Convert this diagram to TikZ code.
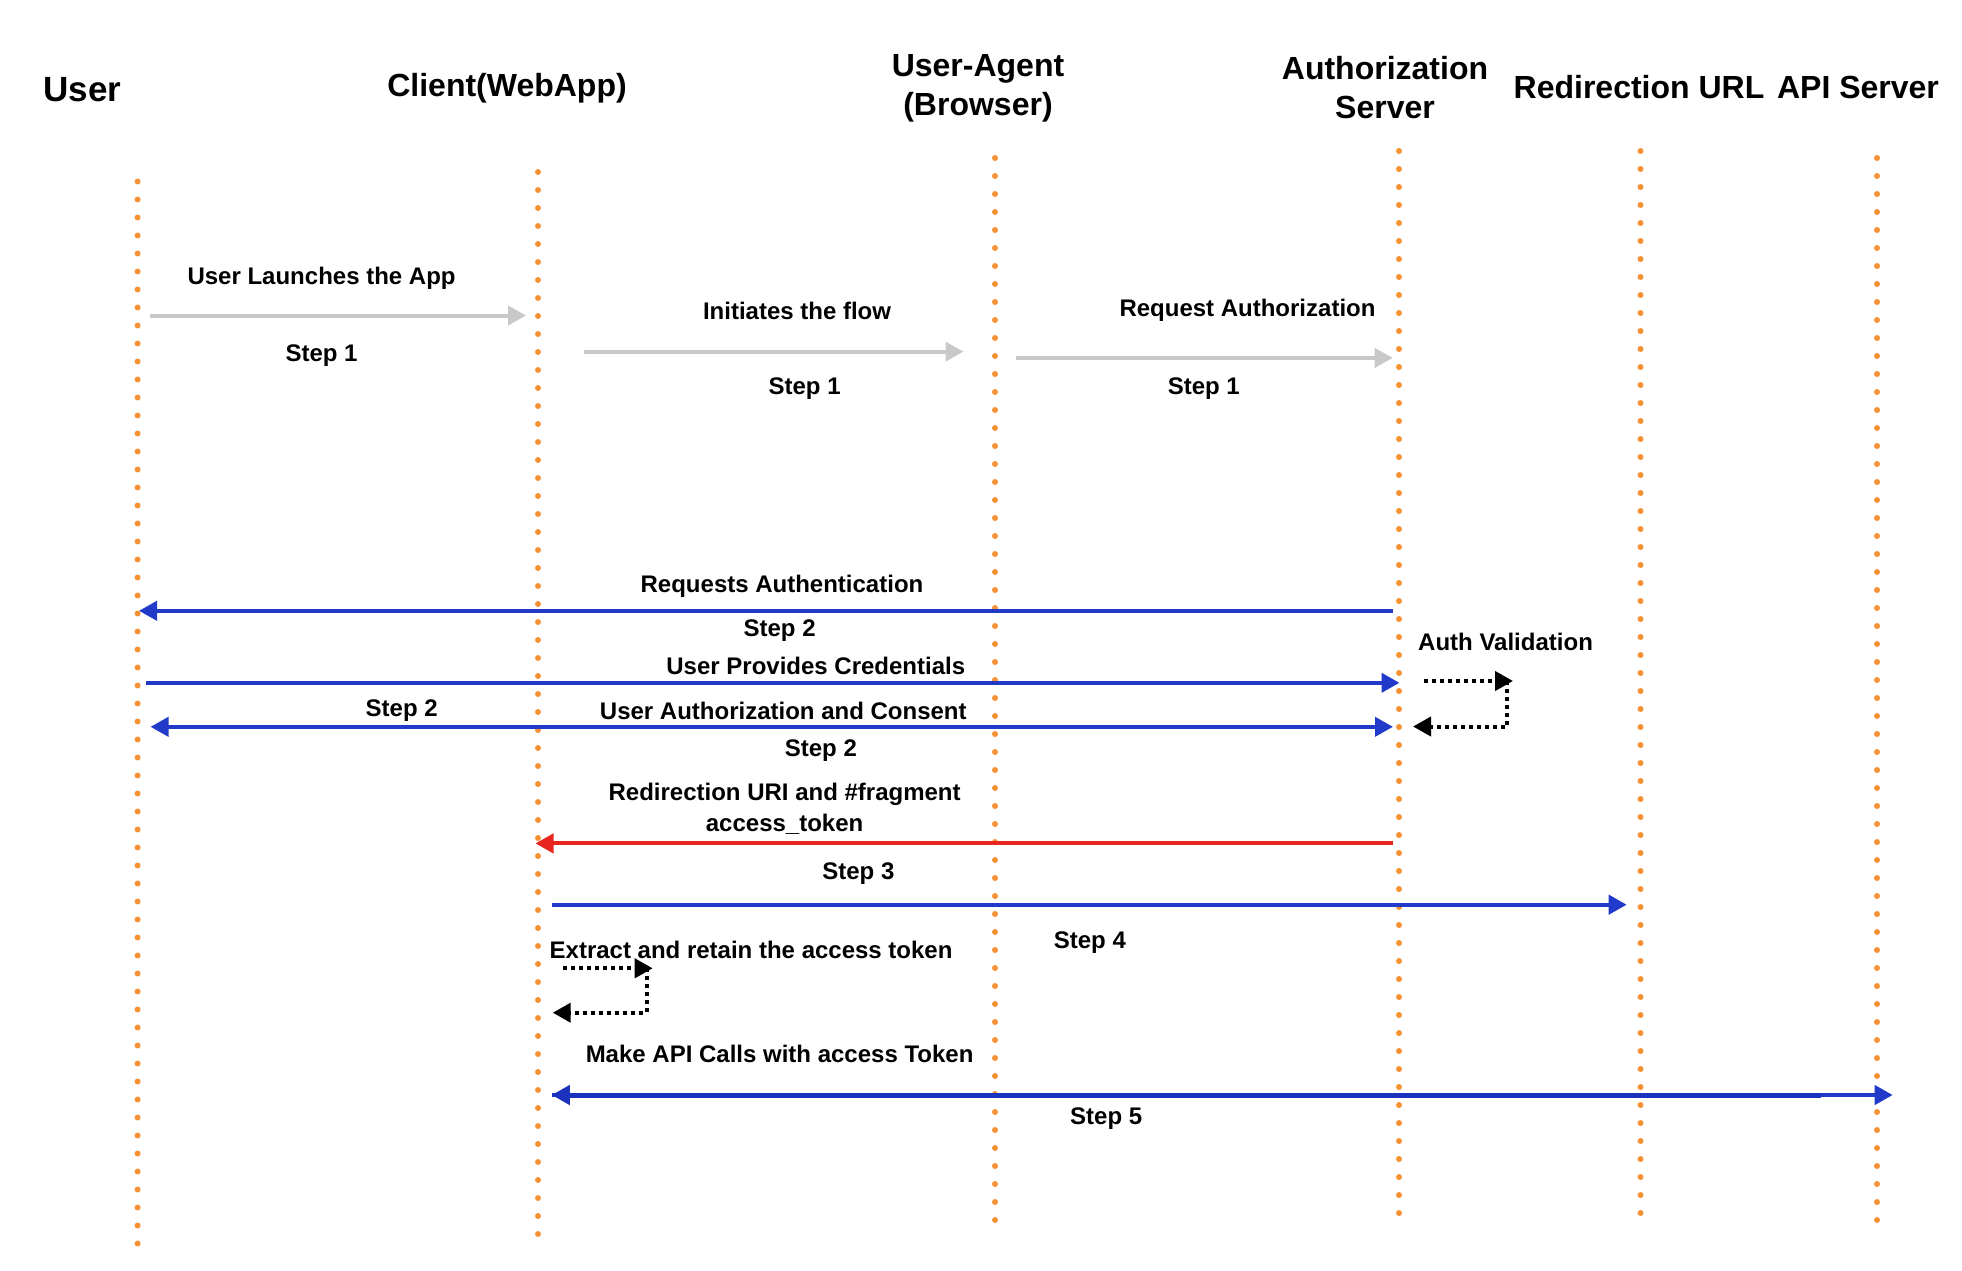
\documentclass[tikz,border=0pt]{standalone}
\usepackage{fontspec}
\setmainfont{Liberation Sans}
\usetikzlibrary{arrows.meta}
\definecolor{lifeorange}{RGB}{246,146,52}
\definecolor{agray}{RGB}{200,200,200}
\definecolor{ablue}{RGB}{33,58,201}
\definecolor{ablueDark}{RGB}{26,50,190}
\definecolor{ared}{RGB}{232,37,30}
\tikzset{
  lifeline/.style={draw=lifeorange, line width=6pt, line cap=round, dash pattern=on 0pt off 18pt},
  head/.style={font=\fontsize{32}{39}\selectfont\bfseries, align=center, inner sep=0pt},
  lbl/.style={font=\fontsize{24}{31}\selectfont\bfseries, align=center, inner sep=0pt},
  grayarrow/.style={draw=agray, line width=4pt, -{Triangle[length=18pt,width=19pt]}},
  bluearrow/.style={draw=ablue, line width=4pt, -{Triangle[length=18pt,width=19pt]}},
  bluedouble/.style={draw=ablue, line width=4pt, {Triangle[length=18pt,width=19pt]}-{Triangle[length=18pt,width=19pt]}},
  redarrow/.style={draw=ared, line width=4pt, -{Triangle[length=18pt,width=19pt]}},
  loopline/.style={draw=black, line width=4pt, dash pattern=on 4pt off 4pt},
  looparrow/.style={loopline, -{Triangle[length=18pt,width=19pt]}}
}
\begin{document}
\begin{tikzpicture}[x=1pt,y=-1pt]
\useasboundingbox (0,0) rectangle (1962,1270);
% headers
\node[head, font=\fontsize{35}{39}\selectfont\bfseries] (hUser) at (82.6,90) {User};
\node[head] (hClient) at (507,88) {Client(WebApp)};
\node[head] (hUA) at (978,88.5) {User-Agent\\(Browser)};
\node[head] (hAuth) at (1385,87.5) {Authorization\\Server};
\node[head] (hRedir) at (1639,87) {Redirection URL};
\node[head] (hAPI) at (1858,87) {API Server};
% lifelines
\coordinate (uT) at (137.6,181.5); \coordinate (uB) at (137.6,1245);
\coordinate (cT) at (538,172); \coordinate (cB) at (538,1236);
\coordinate (aT) at (995,158); \coordinate (aB) at (995,1220);
\coordinate (sT) at (1399,151); \coordinate (sB) at (1399,1214);
\coordinate (rT) at (1640.5,151); \coordinate (rB) at (1640.5,1214);
\coordinate (pT) at (1877,158); \coordinate (pB) at (1877,1220);
\draw[lifeline] (uT) -- (uB);
\draw[lifeline] (cT) -- (cB);
\draw[lifeline] (aT) -- (aB);
\draw[lifeline] (sT) -- (sB);
\draw[lifeline] (rT) -- (rB);
\draw[lifeline] (pT) -- (pB);
% step 1 arrows
\node[lbl] (t1) at (321.6,278.5) {User Launches the App};
\coordinate (a1s) at (150,315.5); \coordinate (a1e) at (526,315.5);
\draw[grayarrow] (a1s) -- (a1e);
\node[lbl] (s1a) at (321.6,356) {Step 1};
\node[lbl] (t2) at (797,310.5) {Initiates the flow};
\coordinate (a2s) at (584.4,351.6); \coordinate (a2e) at (963.5,351.6);
\draw[grayarrow] (a2s) -- (a2e);
\node[lbl] (s1b) at (804.6,388.5) {Step 1};
\node[lbl] (t3) at (1247.5,310.5) {Request Authorization};
\coordinate (a3s) at (1016,357.9); \coordinate (a3e) at (1392.7,357.9);
\draw[grayarrow] (a3s) -- (a3e);
\node[lbl] (s1c) at (1203.8,388.5) {Step 1};
% step 2
\node[lbl] (t4) at (782,586) {Requests Authentication};
\coordinate (a4s) at (1392.7,610.8); \coordinate (a4e) at (139,610.8);
\draw[bluearrow] (a4s) -- (a4e);
\node[lbl] (s2a) at (779.6,631) {Step 2};
\node[lbl] (t5) at (815.8,666) {User Provides Credentials};
\coordinate (a5s) at (146.4,682.8); \coordinate (a5e) at (1399.5,682.8);
\draw[bluearrow] (a5s) -- (a5e);
\node[lbl] (s2b) at (401.7,711) {Step 2};
\node[lbl] (t6) at (783.3,711) {User Authorization and Consent};
\coordinate (a6s) at (150.5,726.8); \coordinate (a6e) at (1393,726.8);
\draw[bluedouble] (a6s) -- (a6e);
\node[lbl] (s2c) at (820.9,751) {Step 2};
% auth validation loop
\node[lbl, anchor=west] (tv) at (1418,642) {Auth Validation};
\coordinate (v1) at (1424,681); \coordinate (v2) at (1513,681);
\coordinate (v3) at (1507,681); \coordinate (v4) at (1507,726.5); \coordinate (v5) at (1413,726.5);
\draw[looparrow] (v1) -- (v2);
\draw[looparrow] (v3) -- (v4) -- (v5);
% step 3
\node[lbl] (t7) at (784.6,809) {Redirection URI and \#fragment\\access\_token};
\coordinate (a7s) at (1392.7,843.4); \coordinate (a7e) at (535.5,843.4);
\draw[redarrow] (a7s) -- (a7e);
\node[lbl] (s3) at (858.4,874) {Step 3};
% step 4
\coordinate (a8s) at (551.8,904.7); \coordinate (a8e) at (1626.7,904.7);
\draw[bluearrow] (a8s) -- (a8e);
\node[lbl] (s4) at (1089.9,942.5) {Step 4};
% extract loop
\node[lbl, anchor=west] (t9) at (549.5,950) {Extract and retain the access token};
\coordinate (w1) at (563.3,968.3); \coordinate (w2) at (652.7,968.3);
\coordinate (w3) at (646.7,968.3); \coordinate (w4) at (646.7,1012.7); \coordinate (w5) at (552.7,1012.7);
\draw[looparrow] (w1) -- (w2);
\draw[looparrow] (w3) -- (w4) -- (w5);
% step 5
\node[lbl] (t10) at (779.6,1053.5) {Make API Calls with access Token};
\coordinate (a10l) at (551.8,1095); \coordinate (a10m) at (1821,1095); \coordinate (a10r) at (1892.7,1095);
\draw[bluearrow] (a10l) -- (a10r);
\draw[draw=ablueDark, line width=5pt, -{Triangle[length=18pt,width=19pt]}] (a10m) -- (a10l);
\node[lbl] (s5) at (1106.2,1119) {Step 5};
\end{tikzpicture}
\end{document}
